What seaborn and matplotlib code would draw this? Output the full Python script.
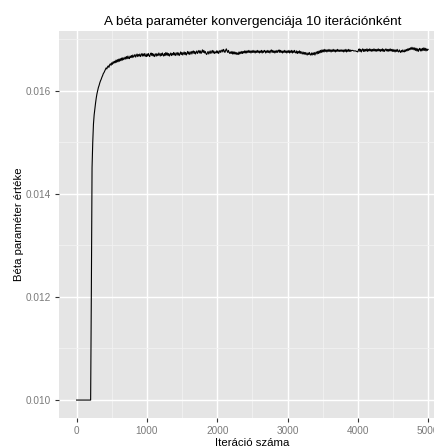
import matplotlib
matplotlib.use("Agg")
import matplotlib.pyplot as plt
import seaborn as sns
import pandas as pd
from matplotlib.ticker import MultipleLocator

# iteration numbers: one recorded value every 10 iterations
iterations = list(range(0, 5001, 10))

beta = (
    [0.0100] * 21 +
    [0.01208, 0.01450, 0.01500, 0.01535, 0.01553, 0.01565, 0.01576, 0.01586, 0.01594] +
    [0.01600, 0.01606, 0.01610, 0.01615, 0.01619, 0.01622, 0.01626, 0.01629, 0.01633, 0.01635,
     0.01638, 0.01641, 0.01644, 0.01642, 0.01646, 0.01648, 0.01645, 0.01650, 0.01652, 0.01649,
     0.01654, 0.01651, 0.01656, 0.01653, 0.01657, 0.01654, 0.01659, 0.01655, 0.01660, 0.01656,
     0.01661, 0.01657, 0.01662, 0.01658, 0.01663, 0.01659, 0.01664, 0.01660, 0.01662, 0.01665,
     0.01661, 0.01666, 0.01662, 0.01667, 0.01663, 0.01662, 0.01667, 0.01664, 0.01668, 0.01664,
     0.01669, 0.01665, 0.01667, 0.01670, 0.01665, 0.01668, 0.01671, 0.01666, 0.01670, 0.01667,
     0.01671, 0.01666, 0.01669, 0.01672, 0.01667, 0.01671, 0.01667, 0.01672, 0.01668, 0.01666,
     0.01671, 0.01667, 0.01672, 0.01668, 0.01666, 0.01671, 0.01673, 0.01668, 0.01672, 0.01667,
     0.01671, 0.01666, 0.01669, 0.01672, 0.01667, 0.01671, 0.01668, 0.01673, 0.01670, 0.01667,
     0.01672, 0.01668, 0.01673, 0.01669, 0.01667, 0.01672, 0.01668, 0.01674, 0.01669, 0.01673,
     0.01668, 0.01672, 0.01667, 0.01670, 0.01673, 0.01668, 0.01672, 0.01669, 0.01674, 0.01669,
     0.01673, 0.01668, 0.01671, 0.01674, 0.01669, 0.01673, 0.01668, 0.01671, 0.01675, 0.01670,
     0.01674, 0.01669, 0.01672, 0.01675, 0.01670, 0.01674, 0.01669, 0.01672, 0.01676, 0.01671,
     0.01675, 0.01670, 0.01673, 0.01676, 0.01671, 0.01675, 0.01677, 0.01672, 0.01676, 0.01671,
     0.01674, 0.01677, 0.01672, 0.01675, 0.01678, 0.01673, 0.01677, 0.01672, 0.01675, 0.01679,
     0.01674, 0.01678, 0.01673, 0.01676, 0.01672, 0.01670, 0.01673, 0.01676, 0.01671, 0.01674,
     0.01677, 0.01672, 0.01675, 0.01678, 0.01673, 0.01677, 0.01672, 0.01675, 0.01673, 0.01677,
     0.01673, 0.01677, 0.01672, 0.01675, 0.01678, 0.01674, 0.01677, 0.01679, 0.01675, 0.01680,
     0.01677, 0.01674, 0.01678, 0.01681, 0.01677, 0.01674, 0.01678, 0.01674, 0.01672, 0.01675,
     0.01672, 0.01676, 0.01671, 0.01675, 0.01671, 0.01675, 0.01671, 0.01674, 0.01670, 0.01673,
     0.01670, 0.01675, 0.01671, 0.01675, 0.01672, 0.01676, 0.01672, 0.01676, 0.01673, 0.01677,
     0.01673, 0.01677, 0.01673, 0.01677, 0.01674, 0.01678, 0.01674, 0.01677, 0.01673, 0.01677,
     0.01674, 0.01678, 0.01674, 0.01677, 0.01673, 0.01677, 0.01674, 0.01678, 0.01674, 0.01677,
     0.01673, 0.01677, 0.01674, 0.01678, 0.01673, 0.01677, 0.01674, 0.01678, 0.01677, 0.01673,
     0.01677, 0.01674, 0.01678, 0.01674, 0.01677, 0.01673, 0.01677, 0.01679, 0.01674, 0.01678,
     0.01674, 0.01677, 0.01673, 0.01677, 0.01674, 0.01678, 0.01674, 0.01677, 0.01679, 0.01674,
     0.01678, 0.01674, 0.01677, 0.01673, 0.01677, 0.01674, 0.01678, 0.01674, 0.01677, 0.01673,
     0.01677, 0.01674, 0.01678, 0.01673, 0.01677, 0.01674, 0.01678, 0.01673, 0.01677, 0.01674,
     0.01678, 0.01674, 0.01673, 0.01677, 0.01672, 0.01676, 0.01673, 0.01677, 0.01672, 0.01676,
     0.01673, 0.01671, 0.01675, 0.01671, 0.01674, 0.01670, 0.01674, 0.01671, 0.01669, 0.01673,
     0.01670, 0.01674, 0.01670, 0.01669, 0.01673, 0.01669, 0.01673, 0.01670, 0.01674, 0.01669,
     0.01673, 0.01675, 0.01671, 0.01676, 0.01672, 0.01677, 0.01673, 0.01678, 0.01674, 0.01679,
     0.01675, 0.01679, 0.01675, 0.01680, 0.01676, 0.01679, 0.01675, 0.01679, 0.01676, 0.01680,
     0.01676, 0.01679, 0.01675, 0.01679, 0.01676, 0.01680, 0.01676, 0.01679, 0.01675, 0.01679,
     0.01676, 0.01680, 0.01676, 0.01679, 0.01676, 0.01679, 0.01676, 0.01679, 0.01676, 0.01679,
     0.01675, 0.01679, 0.01676, 0.01680, 0.01675, 0.01679, 0.01676, 0.01680, 0.01676, 0.01679,
     0.01676, 0.01678, 0.01678, 0.01678, 0.01677, 0.01677, 0.01677, 0.01677, 0.01676, 0.01676,
     0.01675, 0.01679, 0.01681, 0.01676, 0.01680, 0.01675, 0.01679, 0.01681, 0.01676, 0.01680,
     0.01676, 0.01680, 0.01677, 0.01681, 0.01676, 0.01680, 0.01677, 0.01681, 0.01677, 0.01680,
     0.01676, 0.01680, 0.01677, 0.01681, 0.01677, 0.01680, 0.01676, 0.01680, 0.01677, 0.01681,
     0.01677, 0.01680, 0.01676, 0.01680, 0.01677, 0.01681, 0.01676, 0.01680, 0.01676, 0.01679,
     0.01681, 0.01677, 0.01680, 0.01676, 0.01680, 0.01677, 0.01681, 0.01677, 0.01680, 0.01676,
     0.01680, 0.01676, 0.01679, 0.01675, 0.01679, 0.01676, 0.01680, 0.01676, 0.01675, 0.01679,
     0.01676, 0.01674, 0.01678, 0.01675, 0.01679, 0.01676, 0.01675, 0.01679, 0.01676, 0.01680,
     0.01677, 0.01681, 0.01678, 0.01682, 0.01679, 0.01683, 0.01680, 0.01684, 0.01680, 0.01683,
     0.01679, 0.01683, 0.01678, 0.01682, 0.01677, 0.01681, 0.01676, 0.01680, 0.01682, 0.01677,
     0.01681, 0.01677, 0.01682, 0.01678, 0.01683, 0.01678, 0.01682, 0.01677, 0.01681, 0.01678,
     0.01680]
)

x_ticks = [0, 1000, 2000, 3000, 4000, 5000]
y_ticks = [0.010, 0.012, 0.014, 0.016]
y_tick_labels = ["0.010", "0.012", "0.014", "0.016"]

title = "A béta paraméter konvergenciája 10 iterációnként"
xlabel = "Iteráció száma"
ylabel = "Béta paraméter értéke"

df = pd.DataFrame({"iter": iterations, "beta": beta})

plt.rcParams["font.family"] = ["Liberation Sans", "DejaVu Sans"]

W, H = 435, 448
fig = plt.figure(figsize=(W / 100, H / 100), dpi=100)
left, right, top, bottom = 59, 59 + 386.7, 30.8, 417.6
ax = fig.add_axes([left / W, 1 - bottom / H, (right - left) / W, (bottom - top) / H])
ax.set_facecolor("#E5E5E5")

sns.lineplot(data=df, x="iter", y="beta", ax=ax, color="black", linewidth=0.8)

ax.set_xlim(-250, 5250)
ax.set_ylim(0.00966, 0.01716)
ax.set_xticks(x_ticks)
ax.set_xticklabels([str(t) for t in x_ticks])
ax.set_yticks(y_ticks)
ax.set_yticklabels(y_tick_labels)
ax.xaxis.set_minor_locator(MultipleLocator(500))
ax.yaxis.set_minor_locator(MultipleLocator(0.001))

ax.grid(which="major", color="white", linewidth=1.0)
ax.grid(which="minor", color="#F2F2F2", linewidth=0.6)
ax.set_axisbelow(True)
for s in ax.spines.values():
    s.set_visible(False)

ax.tick_params(which="major", length=3.2, width=0.8, color="#333333",
               labelsize=7.2, labelcolor="#7A7A7A", pad=2.5)
ax.tick_params(which="minor", length=0)

ax.set_title(title, fontsize=9.7, color="black", pad=4)
ax.set_xlabel(xlabel, fontsize=8.2, labelpad=2)
ax.set_ylabel(ylabel, fontsize=8.2, labelpad=1)

fig.savefig("out.png", dpi=100)
